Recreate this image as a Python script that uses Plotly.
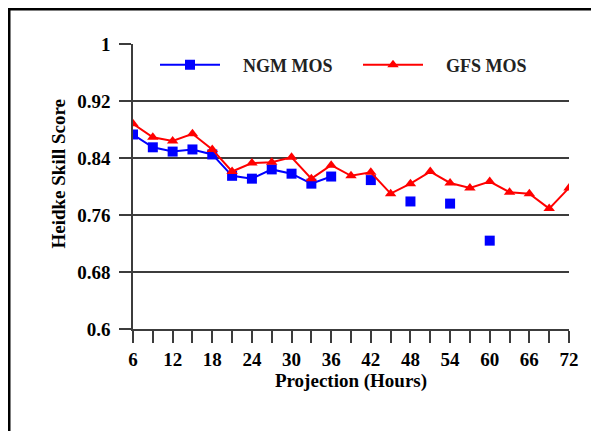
import plotly.graph_objects as go

# Projection hours and Heidke skill scores
hours = [6, 9, 12, 15, 18, 21, 24, 27, 30, 33, 36, 39,
         42, 45, 48, 51, 54, 57, 60, 63, 66, 69, 72]
ngm_mos = [0.873, 0.855, 0.849, 0.852, 0.845, 0.815, 0.811, 0.824, 0.818, 0.804, 0.814, None,
           0.809, None, 0.779, None, 0.776, None, 0.724, None, None, None, None]
gfs_mos = [0.888, 0.869, 0.864, 0.874, 0.852, 0.821, 0.833, 0.834, 0.841, 0.811, 0.830, 0.815,
           0.820, 0.790, 0.804, 0.821, 0.805, 0.798, 0.807, 0.792, 0.790, 0.769, 0.798]

y_ticks = [0.6, 0.68, 0.76, 0.84, 0.92, 1.0]
y_labels = ["0.6", "0.68", "0.76", "0.84", "0.92", "1"]

# page has an 8px body margin, so the figure is laid out 8px smaller
OFF = 8
W, H = 599 - OFF, 431 - OFF
L, R, T, B = 133 - OFF, 30, 44 - OFF, 102
pw, ph = W - L - R, H - T - B

FONT = dict(family="Liberation Serif", size=19, color="black", weight="bold")
GRID = "#3c3c3c"
PAD = "\u00a0" * 4  # gap between legend symbol and its text

fig = go.Figure()

fig.add_trace(go.Scatter(
    x=hours, y=ngm_mos, name=PAD + "NGM MOS", mode="lines+markers",
    line=dict(color="#0000ff", width=2),
    marker=dict(symbol="square", size=10, color="#0000ff"),
    connectgaps=False,
))
fig.add_trace(go.Scatter(
    x=hours, y=gfs_mos, name=PAD + "GFS MOS", mode="lines+markers",
    line=dict(color="#ff0000", width=2),
    marker=dict(symbol="triangle-up", size=10, color="#ff0000"),
    connectgaps=False,
))


# pixel (figure coords) -> paper coords
def px_x(p):
    return (p - L) / pw


def px_y(p):
    return (H - B - p) / ph


# frame lines (left and top) like the original figure border
fig.add_shape(type="line", xref="paper", yref="paper",
              x0=px_x(0), x1=px_x(W + 5), y0=px_y(1), y1=px_y(1),
              line=dict(color="black", width=3))
fig.add_shape(type="line", xref="paper", yref="paper",
              x0=px_x(1), x1=px_x(1), y0=px_y(0), y1=px_y(H + 5),
              line=dict(color="black", width=3))

# y title sits a little above the plot centre in the original
fig.add_annotation(
    text="Heidke Skill Score", xref="paper", yref="paper",
    x=px_x(49.5), y=px_y(166), xanchor="center", yanchor="middle",
    textangle=-90, showarrow=False, font=FONT,
)

fig.update_layout(
    width=W, height=H,
    margin=dict(l=L, r=R, t=T, b=B),
    paper_bgcolor="white", plot_bgcolor="white",
    font=FONT,
    showlegend=True,
    legend=dict(
        orientation="h", x=px_x(147), y=px_y(57), xanchor="left", yanchor="middle",
        font=dict(family="Liberation Serif", size=18, color="#222", weight="bold"),
        bgcolor="rgba(0,0,0,0)", itemwidth=60,
        entrywidth=128, entrywidthmode="pixels",
    ),
)

fig.update_xaxes(
    range=[6, 72], tickmode="linear", tick0=6, dtick=6,
    ticks="outside", ticklen=12, tickwidth=1.5, tickcolor=GRID,
    minor=dict(dtick=3, ticks="outside", ticklen=12, tickwidth=1.5, tickcolor=GRID, showgrid=False),
    showgrid=False, zeroline=False,
    showline=True, linecolor=GRID, linewidth=1.5,
    tickfont=FONT,
    title=dict(text="Projection (Hours)", font=FONT, standoff=4),
)
fig.update_yaxes(
    range=[0.6, 1.0], tickvals=y_ticks, ticktext=y_labels,
    ticks="outside", ticklen=12, tickwidth=1.5, tickcolor=GRID,
    ticklabelstandoff=5,
    showgrid=True, gridcolor=GRID, gridwidth=1.5, zeroline=False,
    showline=True, linecolor=GRID, linewidth=1.5,
    tickfont=FONT,
)

fig.write_html("out.html")
